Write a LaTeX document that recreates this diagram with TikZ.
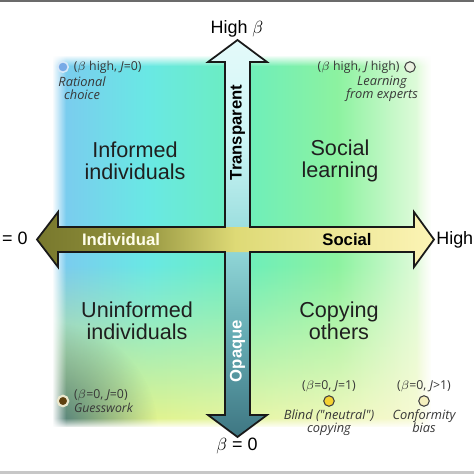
\documentclass[tikz,border=0pt]{standalone}
\usepackage{fontspec}
\setmainfont{Liberation Sans}
\newfontfamily\notefont{Open Sans}
\usetikzlibrary{positioning,fadings}

\definecolor{bgA}{RGB}{125,200,240}
\definecolor{bgB}{RGB}{105,232,228}
\definecolor{bgC}{RGB}{108,238,188}
\definecolor{bgD}{RGB}{140,242,160}
\definecolor{bgE}{RGB}{238,252,228}
\definecolor{bgYel}{RGB}{225,242,110}
\definecolor{bgPale}{RGB}{250,250,215}
\definecolor{bgDark}{RGB}{55,105,125}
\definecolor{vTop}{RGB}{228,250,250}
\definecolor{vUp}{RGB}{205,245,245}
\definecolor{vMid}{RGB}{150,220,220}
\definecolor{vLow}{RGB}{100,170,178}
\definecolor{vBot}{RGB}{62,118,130}
\definecolor{hLeft}{RGB}{120,120,45}
\definecolor{hLow}{RGB}{145,145,60}
\definecolor{hMid}{RGB}{222,218,118}
\definecolor{hRight}{RGB}{252,244,182}
\definecolor{spotBlue}{RGB}{120,170,230}
\definecolor{spotBlueRim}{RGB}{215,232,248}
\definecolor{spotWhite}{RGB}{235,242,225}
\definecolor{spotBrown}{RGB}{95,65,15}
\definecolor{spotBrownRim}{RGB}{235,232,205}
\definecolor{spotYellow}{RGB}{245,210,50}
\definecolor{spotPale}{RGB}{245,240,190}

\pgfdeclarehorizontalshading{quadbg}{100bp}{color(0bp)=(bgA); color(25bp)=(bgA);
  color(37.5bp)=(bgB); color(50bp)=(bgC); color(62.5bp)=(bgD); color(75bp)=(bgE);
  color(100bp)=(bgE)}
\pgfdeclarehorizontalshading{hband}{100bp}{color(0bp)=(hLeft); color(25bp)=(hLeft);
  color(37.5bp)=(hLow); color(50bp)=(hMid); color(75bp)=(hRight); color(100bp)=(hRight)}
\pgfdeclareverticalshading{vband}{100bp}{color(0bp)=(vBot); color(25bp)=(vBot);
  color(37.5bp)=(vLow); color(50bp)=(vMid); color(62.5bp)=(vUp); color(75bp)=(vTop);
  color(100bp)=(vTop)}
\tikzfading[name=blobfade, inner color=transparent!5, outer color=transparent!100]

\begin{document}
\begin{tikzpicture}[
  x=0.02cm, y=-0.02cm,
  quad/.style={align=center, font=\fontsize{12.3}{12.6}\selectfont, text=black!88},
  axislbl/.style={font=\fontsize{9.5}{10}\selectfont\bfseries, inner sep=0pt},
  endlbl/.style={font=\fontsize{10.2}{11}\selectfont, inner sep=0pt},
  note/.style={font=\notefont\fontsize{7}{7.8}\selectfont, inner sep=0.5pt, text=black!78},
  noteit/.style={font=\notefont\itshape\fontsize{7.3}{7.5}\selectfont, align=center,
                 inner sep=0.5pt, text=black!78},
  spot/.style={circle, draw=black!75, line width=0.6pt, minimum size=0.21cm, inner sep=0pt},
  rim/.style={line width=1pt, draw=black!90, line join=miter},
]
  \useasboundingbox (0,0) rectangle (474,474);
  \clip (0,0) rectangle (474,474);
  \fill[white] (0,0) rectangle (474,474);

  % Background of the quadrants
  \begin{scope}
    \clip (52,55) rectangle (432,428);
    \shade[shading=quadbg] (52,55) rectangle (432,428);
    \shade[left color=bgYel, right color=bgPale, path fading=north] (52,265) rectangle (432,428);
    \fill[bgDark, path fading=blobfade] (48,432) circle (110);
    \fill[white, path fading=east] (52,55) rectangle (66,428);
    \fill[white, path fading=south] (52,55) rectangle (432,66);
    \fill[white, path fading=west] (416,55) rectangle (432,428);
    \fill[white, path fading=north] (52,418) rectangle (432,428);
  \end{scope}
  % white frame round the background
  \fill[white, even odd rule] (0,0) rectangle (474,474) (53,56) rectangle (431,427);
  \fill[black!58] (0,0) rectangle (474,2);
  \fill[black!22] (0,471) rectangle (474,474);

  % Axis arrows
  \shade[shading=vband] (237.5,40) -- (267,62) -- (250,62) -- (250,415) -- (267,415)
    -- (237.5,437) -- (208,415) -- (225,415) -- (225,62) -- (208,62) -- cycle;
  \shade[shading=hband] (37,239.5) -- (58,212) -- (58,227) -- (414,227) -- (414,212)
    -- (434,239.5) -- (414,267) -- (414,252) -- (58,252) -- (58,267) -- cycle;
  \draw[rim] (237.5,40) -- (267,62) -- (250,62) -- (250,227) -- (414,227) -- (414,212)
    -- (434,239.5) -- (414,267) -- (414,252) -- (250,252) -- (250,415) -- (267,415)
    -- (237.5,437) -- (208,415) -- (225,415) -- (225,252) -- (58,252) -- (58,267)
    -- (37,239.5) -- (58,212) -- (58,227) -- (225,227) -- (225,62) -- (208,62) -- cycle;

  % Axis words
  \node[axislbl, rotate=90] (transparent) at (237.5,132.5) {Transparent};
  \node[axislbl, rotate=90, text=white] (opaque) at (237.5,351) {Opaque};
  \node[axislbl, text=white!92!yellow] (individual) at (121,240) {Individual};
  \node[axislbl] (social) at (347,240) {Social};

  % Axis ends
  \node[endlbl, anchor=base] (highbeta) at (237,33) {High $\beta$};
  \node[endlbl, anchor=base] (zerobeta) at (237,450) {$\beta$ = 0};
  \node[endlbl, anchor=base east] (zeroJ) at (28,244) {= 0};
  \node[endlbl, anchor=base west] (highJ) at (436,244) {High};

  % Quadrants
  \node[quad] (informed) at (135,161) {Informed\\individuals};
  \node[quad] (sociallearn) at (340,161) {Social\\learning};
  \node[quad] (uninformed) at (137,321) {Uninformed\\individuals};
  \node[quad] (copying) at (339,321) {Copying\\others};

  % Rational choice
  \node[spot, fill=spotBlue, draw=spotBlueRim, line width=0.9pt] (spotRational) at (63,67) {};
  \node[note, right=2pt of spotRational] (tagRational) {($\beta$ high, \textit{J}=0)};
  \node[noteit] (nameRational) at (82,88.5) {Rational\\choice};

  % Learning from experts
  \node[spot, fill=spotWhite] (spotExperts) at (410,67) {};
  \node[note, left=2pt of spotExperts] (tagExperts) {($\beta$ high, \textit{J} high)};
  \node[noteit] (nameExperts) at (382,88.5) {Learning\\from experts};

  % Guesswork
  \node[spot, fill=spotBrown, draw=spotBrownRim, line width=1.2pt] (spotGuess) at (63,401) {};
  \node[note, align=left, right=2pt of spotGuess] (tagGuess)
    {($\beta$=0, \textit{J}=0)\\\textit{Guesswork}};

  % Blind copying
  \node[spot, fill=spotYellow] (spotBlind) at (329,401) {};
  \node[note, above=1pt of spotBlind] (tagBlind) {($\beta$=0, \textit{J}=1)};
  \node[noteit, below=1pt of spotBlind] (nameBlind) {Blind ("neutral")\\copying};

  % Conformity bias
  \node[spot, fill=spotPale] (spotConform) at (424,401) {};
  \node[note, above=1pt of spotConform] (tagConform) {($\beta$=0, \textit{J}>1)};
  \node[noteit, below=1pt of spotConform] (nameConform) {Conformity\\bias};
\end{tikzpicture}
\end{document}
